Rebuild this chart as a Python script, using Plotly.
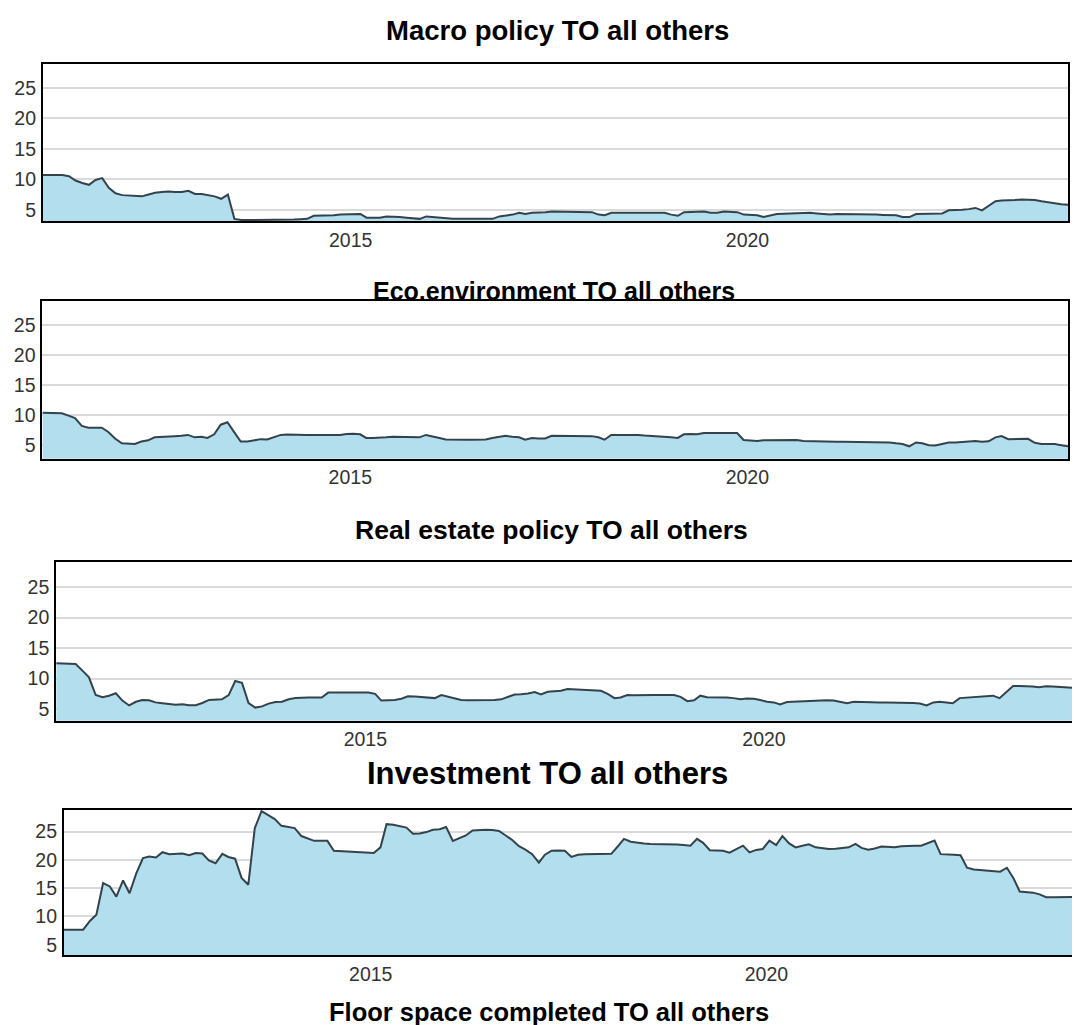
import pandas as pd
import plotly.graph_objects as go

# monthly spillover index, Feb 2011 - Jan 2024
months = pd.date_range("2011-02-01", periods=156, freq="MS") + pd.Timedelta(days=14)

macro_policy = [
    10.7, 10.7, 10.7, 10.7, 10.5, 9.8, 9.4, 9.1, 9.9, 10.2, 8.6, 7.7,
    7.4, 7.3, 7.2, 7.2, 7.5, 7.8, 7.9, 8.0, 7.9, 7.9, 8.1, 7.6,
    7.6, 7.4, 7.2, 6.8, 7.5, 3.5, 3.3, 3.3, 3.3, 3.3, 3.3, 3.35,
    3.35, 3.4, 3.4, 3.45, 3.5, 4.0, 4.0, 4.1, 4.1, 4.2, 4.2, 4.3,
    4.3, 3.7, 3.7, 3.7, 3.9, 3.9, 3.8, 3.7, 3.6, 3.5, 3.9, 3.8,
    3.7, 3.5, 3.5, 3.5, 3.5, 3.5, 3.55, 3.55, 3.5, 3.9, 4.0, 4.2,
    4.5, 4.3, 4.5, 4.5, 4.6, 4.7, 4.7, 4.7, 4.7, 4.7, 4.7, 4.6,
    4.2, 4.1, 4.5, 4.5, 4.5, 4.55, 4.55, 4.55, 4.55, 4.5, 4.5, 4.2,
    4.0, 4.6, 4.6, 4.6, 4.7, 4.5, 4.5, 4.7, 4.7, 4.6, 4.2, 4.2,
    4.1, 3.8, 4.1, 4.3, 4.35, 4.4, 4.5, 4.5, 4.5, 4.4, 4.3, 4.2,
    4.3, 4.3, 4.3, 4.3, 4.3, 4.3, 4.2, 4.15, 4.1, 4.1, 3.8, 3.8,
    4.3, 4.3, 4.3, 4.3, 4.4, 4.9, 4.9, 5.0, 5.1, 5.3, 4.9, 5.6,
    6.4, 6.5, 6.5, 6.6, 6.7, 6.7, 6.6, 6.4, 6.2, 6.1, 5.9, 5.8,
]

eco_environment = [
    10.4, 10.4, 10.4, 10.3, 9.9, 9.5, 8.2, 7.9, 7.9, 7.9, 7.2, 6.1,
    5.3, 5.25, 5.2, 5.6, 5.8, 6.3, 6.4, 6.5, 6.5, 6.55, 6.7, 6.3,
    6.4, 6.2, 6.8, 8.4, 8.8, 7.2, 5.6, 5.6, 5.8, 6.0, 5.95, 6.3,
    6.7, 6.75, 6.7, 6.7, 6.7, 6.7, 6.7, 6.7, 6.65, 6.7, 6.85, 6.9,
    6.8, 6.2, 6.2, 6.2, 6.3, 6.4, 6.35, 6.3, 6.3, 6.3, 6.7, 6.5,
    6.2, 5.95, 5.9, 5.9, 5.9, 5.9, 5.95, 5.95, 6.2, 6.4, 6.55, 6.4,
    6.3, 5.9, 6.2, 6.1, 6.1, 6.55, 6.55, 6.55, 6.55, 6.55, 6.5, 6.5,
    6.3, 5.9, 6.7, 6.7, 6.75, 6.8, 6.7, 6.6, 6.55, 6.5, 6.4, 6.3,
    6.2, 6.8, 6.85, 6.8, 7.0, 7.0, 7.05, 7.05, 7.05, 7.0, 5.85, 5.8,
    5.7, 5.8, 5.8, 5.9, 5.9, 5.9, 5.85, 5.7, 5.65, 5.6, 5.55, 5.55,
    5.55, 5.55, 5.55, 5.55, 5.5, 5.5, 5.5, 5.45, 5.45, 5.3, 5.2, 4.8,
    5.45, 5.3, 5.0, 4.95, 5.2, 5.45, 5.45, 5.5, 5.6, 5.7, 5.55, 5.65,
    6.3, 6.5, 6.0, 6.05, 6.1, 6.05, 5.4, 5.2, 5.2, 5.2, 5.0, 4.8,
]

real_estate_policy = [
    12.5, 12.5, 12.5, 12.4, 11.3, 10.2, 7.3, 6.95, 7.2, 7.6, 6.4, 5.6,
    6.2, 6.5, 6.45, 6.1, 5.95, 5.8, 5.7, 5.8, 5.65, 5.65, 6.0, 6.5,
    6.55, 6.6, 7.3, 9.6, 9.3, 6.0, 5.25, 5.45, 5.9, 6.15, 6.2, 6.6,
    6.8, 6.9, 6.9, 6.9, 6.9, 7.7, 7.7, 7.7, 7.7, 7.7, 7.7, 7.7,
    7.5, 6.4, 6.45, 6.5, 6.7, 7.1, 7.05, 7.0, 6.9, 6.8, 7.3, 7.0,
    6.8, 6.5, 6.45, 6.45, 6.45, 6.4, 6.5, 6.6, 7.0, 7.4, 7.45, 7.55,
    7.8, 7.4, 7.85, 7.9, 8.0, 8.3, 8.25, 8.2, 8.2, 8.15, 8.0, 7.5,
    6.8, 6.9, 7.3, 7.25, 7.3, 7.3, 7.3, 7.3, 7.3, 7.3, 7.0, 6.3,
    6.45, 7.2, 6.95, 6.95, 6.9, 6.9, 6.8, 6.6, 6.75, 6.7, 6.5, 6.2,
    6.1, 5.75, 6.15, 6.2, 6.25, 6.3, 6.45, 6.5, 6.45, 6.4, 6.2, 5.95,
    6.2, 6.15, 6.15, 6.15, 6.1, 6.1, 6.1, 6.05, 6.0, 6.0, 5.9, 5.6,
    6.1, 6.2, 6.1, 5.95, 6.8, 6.9, 6.95, 7.0, 7.1, 7.2, 6.8, 7.8,
    8.8, 8.8, 8.8, 8.7, 8.6, 8.75, 8.7, 8.6, 8.55, 8.5, 8.2, 8.0,
]

investment = [
    7.65, 7.65, 7.65, 7.65, 9.2, 10.3, 15.9, 15.3, 13.5, 16.35, 14.1, 17.6,
    20.3, 20.6, 20.4, 21.35, 21.0, 21.0, 21.1, 20.8, 21.2, 21.1, 19.9, 19.4,
    21.05, 20.5, 20.2, 16.8, 15.6, 25.6, 28.6, 27.9, 27.2, 26.0, 25.85, 25.6,
    24.2, 23.8, 23.35, 23.35, 23.35, 21.6, 21.55, 21.5, 21.45, 21.4, 21.3, 21.2,
    22.2, 26.3, 26.2, 25.95, 25.7, 24.6, 24.65, 24.9, 25.3, 25.4, 25.8, 23.35,
    23.8, 24.3, 25.2, 25.3, 25.3, 25.25, 25.1, 24.3, 23.5, 22.4, 21.8, 21.0,
    19.5, 20.9, 21.6, 21.65, 21.6, 20.5, 20.9, 21.0, 21.0, 21.0, 21.0, 21.05,
    22.4, 23.7, 23.2, 23.0, 22.9, 22.8, 22.8, 22.8, 22.8, 22.7, 22.6, 22.5,
    23.7, 23.0, 21.7, 21.6, 21.6, 21.25, 21.9, 22.5, 21.3, 21.75, 21.9, 23.4,
    22.6, 24.2, 22.9, 22.2, 22.5, 22.75, 22.2, 22.0, 21.9, 21.95, 22.05, 22.2,
    22.8, 22.1, 21.8, 22.0, 22.35, 22.3, 22.2, 22.4, 22.5, 22.5, 22.5, 22.9,
    23.4, 21.0, 21.0, 20.9, 20.8, 18.6, 18.3, 18.2, 18.1, 18.0, 17.9, 18.6,
    16.7, 14.4, 14.3, 14.2, 13.9, 13.4, 13.4, 13.4, 13.4, 13.45, 13.6, 14.4,
]

titles = [
    "Macro policy TO all others",
    "Eco.environment TO all others",
    "Real estate policy TO all others",
    "Investment TO all others",
    "Floor space completed TO all others",
]
y_ticks = [5, 10, 15, 20, 25]
year_ticks = ["2015-01-01", "2020-01-01"]
year_labels = ["2015", "2020"]

W, H = 1080, 1025
FILL = "#b2deee"
LINE = "#34434b"
FONT = "Liberation Sans, Arial, sans-serif"


def dom_x(left, right):
    return [left / W, min(right / W, 1.0)]


def dom_y(top, bottom):
    return [1 - bottom / H, 1 - top / H]


# panel boxes in pixels (left, right, top, bottom) and y-axis limits
panels = [
    dict(values=macro_policy, box=(35, 1062, 56, 213.3), yrange=(3.1, 28.95)),
    dict(values=eco_environment, box=(34.5, 1062, 293, 450.7), yrange=(2.75, 28.95)),
    dict(values=real_estate_policy, box=(48.3, 1080, 554.3, 712.7), yrange=(3.1, 29.05)),
    dict(values=investment, box=(56, 1080, 802, 947.3), yrange=(3.13, 28.8)),
]

# title centres (x, y) in pixels and font sizes
title_pos = [(551, 22, 27.5), (547.5, 283, 25), (545, 522, 26.5), (540, 765, 31), (542, 1004, 25.5)]

fig = go.Figure()
x_range = [str(months[0]), str(months[-1])]

for k, p in enumerate(panels, start=1):
    suffix = "" if k == 1 else str(k)
    left, right, top, bottom = p["box"]
    fig.add_trace(go.Scatter(
        x=months, y=p["values"],
        xaxis=f"x{suffix}", yaxis=f"y{suffix}",
        mode="lines", fill="tozeroy", fillcolor=FILL,
        line=dict(color=LINE, width=2),
        showlegend=False, hoverinfo="skip",
    ))
    fig.update_layout(**{
        f"xaxis{suffix}": dict(
            domain=dom_x(left, right), anchor=f"y{suffix}", range=x_range,
            tickvals=year_ticks, ticktext=year_labels,
            showgrid=False, zeroline=False,
            showline=True, mirror=True, linecolor="black", linewidth=2,
            ticks="", ticklabelstandoff=0,
            tickfont=dict(family=FONT, size=19.5, color="#333333"),
        ),
        f"yaxis{suffix}": dict(
            domain=dom_y(top, bottom), anchor=f"x{suffix}", range=list(p["yrange"]),
            tickvals=y_ticks,
            showgrid=True, gridcolor="#dadada", gridwidth=1.5, zeroline=False,
            showline=True, mirror=True, linecolor="black", linewidth=2,
            ticks="", ticklabelstandoff=1,
            tickfont=dict(family=FONT, size=19.5, color="#333333"),
        ),
    })

for text, (cx, cy, size) in zip(titles, title_pos):
    fig.add_annotation(
        text=f"<b>{text}</b>", x=cx / W, y=1 - cy / H,
        xref="paper", yref="paper", xanchor="center", yanchor="middle",
        showarrow=False, font=dict(family=FONT, size=size, color="black"),
    )

fig.update_layout(
    width=W, height=H,
    margin=dict(l=0, r=0, t=0, b=0),
    paper_bgcolor="white", plot_bgcolor="white",
    showlegend=False,
)

fig.write_html("out.html")
